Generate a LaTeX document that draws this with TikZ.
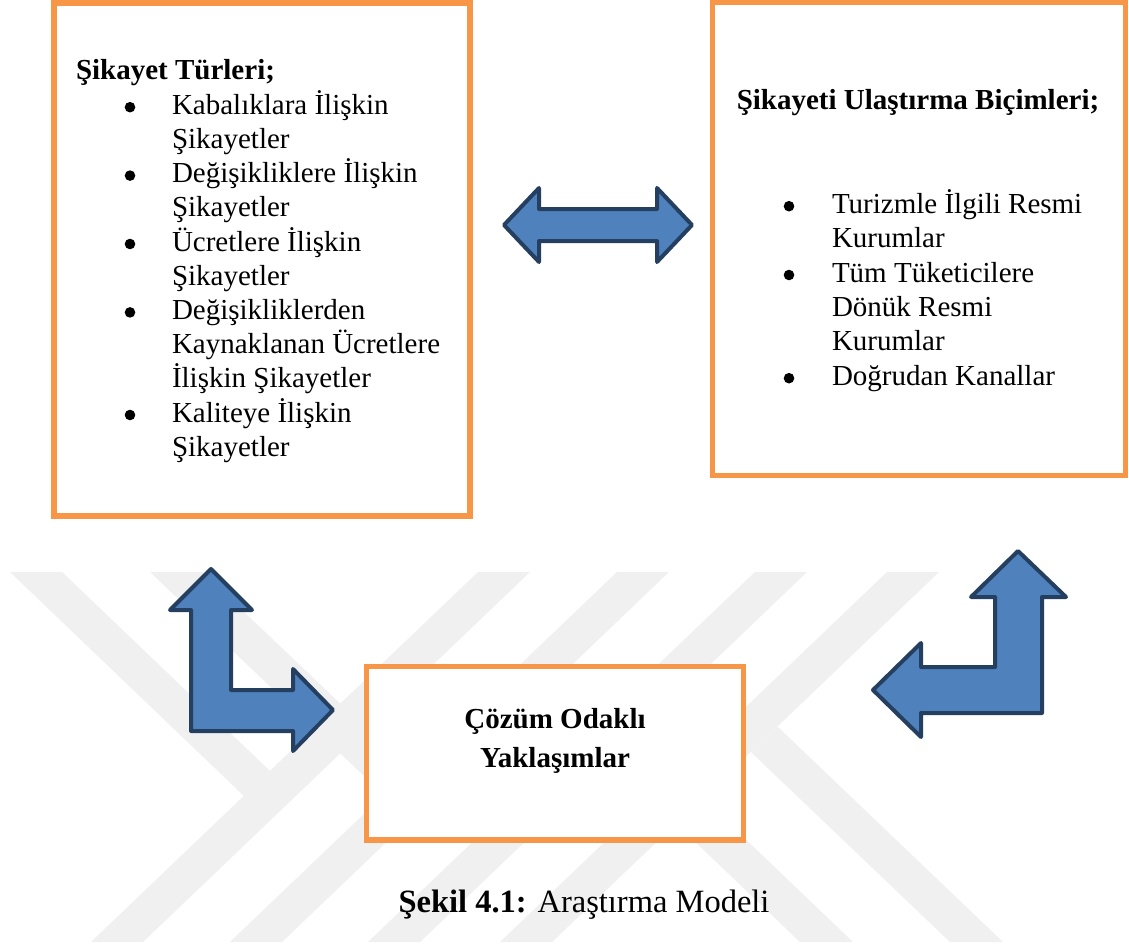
\documentclass[tikz,border=0pt]{standalone}
\usepackage{fontspec}
\setmainfont{Liberation Serif}
\definecolor{boxorange}{HTML}{F79646}
\definecolor{arrowfill}{HTML}{4F81BD}
\definecolor{arrowline}{HTML}{243F60}
\definecolor{markgray}{HTML}{F0F0F0}
\tikzset{
  obox/.style={draw=boxorange, line width=5.5pt, fill=white, rectangle, inner sep=0pt},
  blockarrow/.style={fill=arrowfill, draw=arrowline, line width=4pt, line join=round},
  band/.style={fill=markgray, draw=none},
  txt/.style={inner sep=0pt, outer sep=0pt},
  bodytext/.style={font=\fontsize{29}{34.2}\selectfont},
  bodybold/.style={font=\fontsize{29}{34.2}\selectfont\bfseries},
  dot/.style={fill=black},
}
\begin{document}
\begin{tikzpicture}[x=1pt,y=-1pt]
\useasboundingbox[fill=white] (0,0) rectangle (1129,947);

% pale background emblem made of diagonal bands
\fill[band] (91,942) -- (143,942) -- (530,572) -- (478,572) -- cycle;
\fill[band] (230,942) -- (282,942) -- (669,572) -- (617,572) -- cycle;
\fill[band] (368,942) -- (420,942) -- (807,572) -- (755,572) -- cycle;
\fill[band] (500,942) -- (552,942) -- (939,572) -- (887,572) -- cycle;
\fill[band] (10,572) -- (62,572) -- (270,771) -- (244,796) -- cycle;
\fill[band] (150,572) -- (202,572) -- (410,770) -- (384,795) -- cycle;
\fill[band] (800,942) -- (853,942) -- (636.5,735) -- (610,760.5) -- cycle;
\fill[band] (950,942) -- (1003,942) -- (777.5,726.6) -- (751,752) -- cycle;

% the three boxes
\node[obox, minimum width=416pt, minimum height=513pt] (types) at (262,259.5) {};
\node[obox, minimum width=413pt, minimum height=473pt] (ways) at (919,239) {};
\node[obox, minimum width=377pt, minimum height=173.5pt] (solution) at (555,753.25) {};

% left box: complaint types
\node[txt, bodybold, anchor=base west] (typeshead) at (76,80) {Şikayet Türleri;};
\node[txt, bodytext, anchor=base west] (typeslist) at (172,114.2) {\begin{tabular}[t]{@{}l@{}}
Kabalıklara İlişkin\\
Şikayetler\\
Değişikliklere İlişkin\\
Şikayetler\\
Ücretlere İlişkin\\
Şikayetler\\
Değişikliklerden\\
Kaynaklanan Ücretlere\\
İlişkin Şikayetler\\
Kaliteye İlişkin\\
Şikayetler
\end{tabular}};
\foreach \yy in {107.2,175.6,244,312.4,415}
  \fill[dot] (130,\yy) circle (5.3);

% right box: ways of delivering a complaint
\node[txt, bodybold, anchor=base] (wayshead) at (918,110) {Şikayeti Ulaştırma Biçimleri;};
\node[txt, font=\fontsize{29}{34.4}\selectfont, anchor=base west] (wayslist) at (832,213.2) {\begin{tabular}[t]{@{}l@{}}
Turizmle İlgili Resmi\\
Kurumlar\\
Tüm Tüketicilere\\
Dönük Resmi\\
Kurumlar\\
Doğrudan Kanallar
\end{tabular}};
\foreach \yy in {206.2,275,378.2}
  \fill[dot] (789,\yy) circle (5.3);

% bottom box
\node[txt, font=\fontsize{29}{38.5}\selectfont\bfseries, anchor=base] (solutiontext) at (555,728.5) {\begin{tabular}[t]{@{}c@{}}
Çözüm Odaklı\\
Yaklaşımlar
\end{tabular}};

% block arrows
\draw[blockarrow] (504,225) -- (539,188) -- (539,209) -- (657,209) -- (657,188) -- (692,225)
  -- (657,262) -- (657,241) -- (539,241) -- (539,262) -- cycle;
\draw[blockarrow] (211,569) -- (252,610) -- (231,610) -- (231,690) -- (293,690) -- (293,669)
  -- (333,710) -- (293,751) -- (293,731) -- (191,731) -- (191,610) -- (170,610) -- cycle;
\draw[blockarrow] (1018,551) -- (1066,597) -- (1042,597) -- (1042,713) -- (921,713) -- (921,737)
  -- (873,690) -- (921,643) -- (921,667) -- (995,667) -- (995,597) -- (971,597) -- cycle;

% caption
\node[txt, font=\fontsize{32.5}{38}\selectfont, anchor=base] (caption) at (584,912) {\textbf{Şekil 4.1:} Araştırma Modeli};
\end{tikzpicture}
\end{document}
